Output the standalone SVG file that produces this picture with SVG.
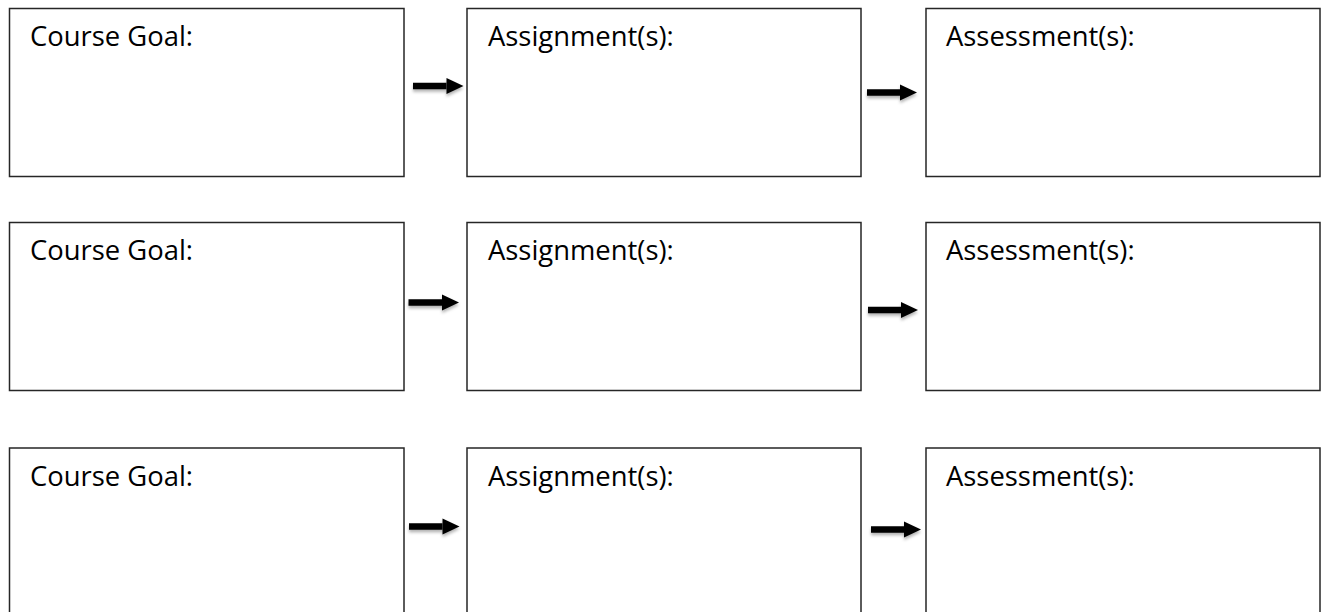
<svg xmlns="http://www.w3.org/2000/svg" width="1322" height="612" viewBox="0 0 1322 612">
<style>
.box{fill:#ffffff;stroke:#262626;stroke-width:1.5}
.lbl{font-family:"Open Sans","Noto Sans","Liberation Sans",sans-serif;font-size:27.4px;fill:#000000}
.arr{stroke:#000000;stroke-width:6.5;fill:none;marker-end:url(#head)}
</style>
<defs>
<marker id="head" markerUnits="userSpaceOnUse" markerWidth="18" markerHeight="17" refX="0" refY="8" orient="auto" overflow="visible">
<path d="M0,0 L17,8 L0,16 Z" fill="#000000"/>
</marker>
<filter id="sh" x="-20%" y="-50%" width="140%" height="220%">
<feDropShadow dx="0" dy="2.5" stdDeviation="1.5" flood-color="#000000" flood-opacity="0.3"/>
</filter>
</defs>
<rect width="1322" height="612" fill="#ffffff"/>
<g id="goal1"><rect class="box" x="9.5" y="8.5" width="394.5" height="168"/><text class="lbl" x="30" y="46">Course Goal:</text></g>
<g id="assign1"><rect class="box" x="467" y="8.5" width="394" height="168"/><text class="lbl" x="488" y="46">Assignment(s):</text></g>
<g id="assess1"><rect class="box" x="926" y="8.5" width="394" height="168"/><text class="lbl" x="946" y="46">Assessment(s):</text></g>
<g id="goal2"><rect class="box" x="9.5" y="222.5" width="394.5" height="168"/><text class="lbl" x="30" y="260">Course Goal:</text></g>
<g id="assign2"><rect class="box" x="467" y="222.5" width="394" height="168"/><text class="lbl" x="488" y="260">Assignment(s):</text></g>
<g id="assess2"><rect class="box" x="926" y="222.5" width="394" height="168"/><text class="lbl" x="946" y="260">Assessment(s):</text></g>
<g id="goal3"><rect class="box" x="9.5" y="448" width="394.5" height="170"/><text class="lbl" x="30" y="485.5">Course Goal:</text></g>
<g id="assign3"><rect class="box" x="467" y="448" width="394" height="170"/><text class="lbl" x="488" y="485.5">Assignment(s):</text></g>
<g id="assess3"><rect class="box" x="926" y="448" width="394" height="170"/><text class="lbl" x="946" y="485.5">Assessment(s):</text></g>
<g id="connectors" filter="url(#sh)">
<line class="arr" x1="413" y1="86" x2="446.5" y2="86"/>
<line class="arr" x1="867" y1="92.5" x2="900" y2="92.5"/>
<line class="arr" x1="408.5" y1="302.5" x2="442" y2="302.5"/>
<line class="arr" x1="868" y1="310" x2="901" y2="310"/>
<line class="arr" x1="409" y1="526.5" x2="442.5" y2="526.5"/>
<line class="arr" x1="871" y1="529.5" x2="904" y2="529.5"/>
</g>
</svg>
